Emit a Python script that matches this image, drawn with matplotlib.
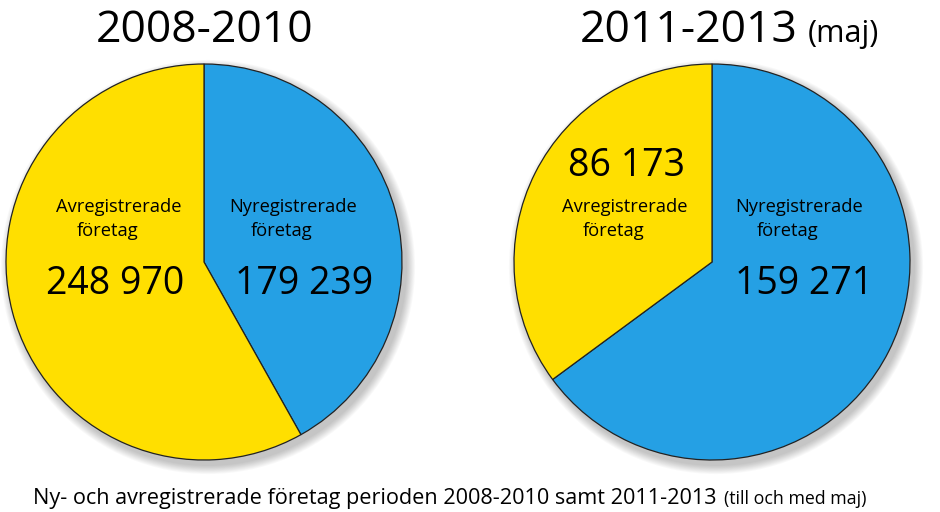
import matplotlib
matplotlib.use("Agg")
import matplotlib.pyplot as plt
from matplotlib.patches import Circle

plt.rcParams['font.family'] = ['Open Sans', 'DejaVu Sans']

# Data
periods = ["2008-2010", "2011-2013"]
period_notes = ["", "(maj)"]
categories = ["Nyregistrerade\nföretag", "Avregistrerade\nföretag"]
ny_values = [179239, 159271]
av_values = [248970, 86173]
value_labels_ny = ["179 239", "159 271"]
value_labels_av = ["248 970", "86 173"]
caption_main = "Ny- och avregistrerade företag perioden 2008-2010 samt 2011-2013"
caption_note = "(till och med maj)"

YELLOW = "#FFDF00"
BLUE = "#25A0E4"

W, H = 940, 512
fig = plt.figure(figsize=(W / 100, H / 100), dpi=100)
ax = fig.add_axes([0, 0, 1, 1])


def Y(y):
    return H - y


centers = [(204, 262), (712, 262)]
R = 198

for i, (cx, cy) in enumerate(centers):
    # soft drop shadow
    for k in range(10):
        ax.add_patch(Circle((cx + 4, Y(cy + 5)), R + 1 + k * 0.9,
                            facecolor="black", edgecolor="none", alpha=0.025, zorder=1))
    ax.pie([ny_values[i], av_values[i]], colors=[BLUE, YELLOW], startangle=90,
           counterclock=False, center=(cx, Y(cy)), radius=R, frame=True,
           wedgeprops=dict(edgecolor="#222222", linewidth=0.9, zorder=3))

ax.set_xlim(0, W)
ax.set_ylim(0, H)
ax.set_aspect("equal")
ax.axis("off")

# Titles
ax.text(205, Y(42), periods[0], ha="center", va="baseline", fontsize=32, color="black", zorder=5)
ax.text(689, Y(42), periods[1], ha="center", va="baseline", fontsize=32, color="black", zorder=5)
ax.text(808, Y(42), period_notes[1], ha="left", va="baseline", fontsize=22, color="black", zorder=5)

lab_fs = 13.2
num_fs = 27

# Left pie labels
av_l, av_r = categories[1].split("\n")
ny_l, ny_r = categories[0].split("\n")
ax.text(119, Y(207), av_l, ha="center", va="center", fontsize=lab_fs, zorder=5)
ax.text(108, Y(231), av_r, ha="center", va="center", fontsize=lab_fs, zorder=5)
ax.text(293, Y(207), ny_l, ha="center", va="center", fontsize=lab_fs, zorder=5)
ax.text(282, Y(231), ny_r, ha="center", va="center", fontsize=lab_fs, zorder=5)
ax.text(115, Y(294), value_labels_av[0], ha="center", va="baseline", fontsize=num_fs, zorder=5)
ax.text(304, Y(294), value_labels_ny[0], ha="center", va="baseline", fontsize=num_fs, zorder=5)

# Right pie labels
ax.text(627, Y(176), value_labels_av[1], ha="center", va="baseline", fontsize=num_fs, zorder=5)
ax.text(625, Y(207), av_l, ha="center", va="center", fontsize=lab_fs, zorder=5)
ax.text(614, Y(231), av_r, ha="center", va="center", fontsize=lab_fs, zorder=5)
ax.text(799, Y(207), ny_l, ha="center", va="center", fontsize=lab_fs, zorder=5)
ax.text(788, Y(231), ny_r, ha="center", va="center", fontsize=lab_fs, zorder=5)
ax.text(804, Y(294), value_labels_ny[1], ha="center", va="baseline", fontsize=num_fs, zorder=5)

# Caption
ax.text(33, Y(504), caption_main, ha="left", va="baseline", fontsize=15.6, zorder=5)
ax.text(724, Y(504), caption_note, ha="left", va="baseline", fontsize=12.8, zorder=5)

fig.savefig("out.png", dpi=100, facecolor="white")
